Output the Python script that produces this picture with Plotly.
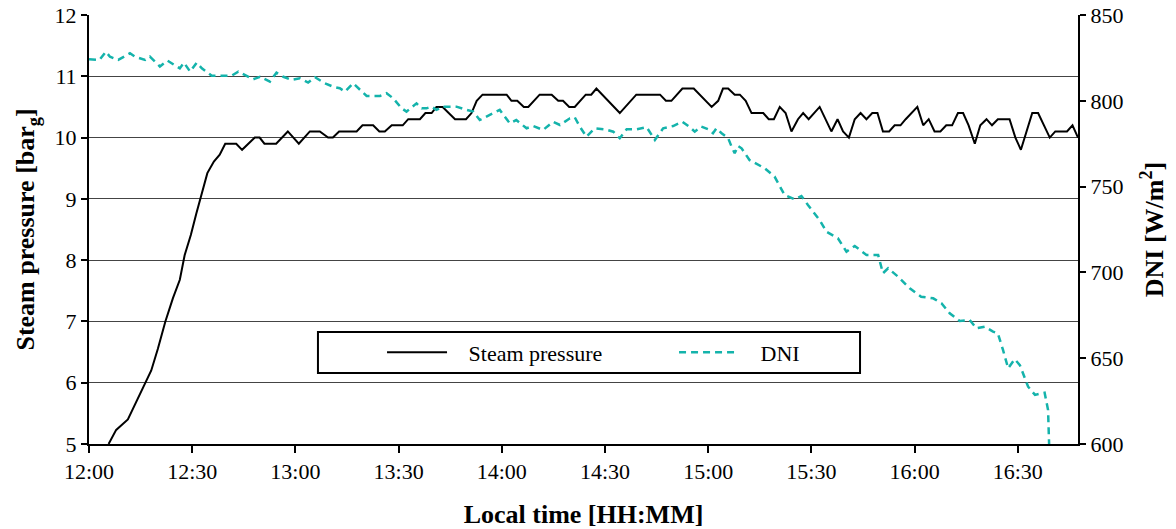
import plotly.graph_objects as go

# minutes after 12:00
p_time = [5.7, 7.9, 11.3, 14.7, 16.2, 18.1, 20.0, 22.2, 24.4, 26.4, 27.8, 29.6, 31.2, 32.6, 34.4, 36.3, 38.0,
          39.6, 42.8, 44.5, 46.2, 48.2, 49.6, 51.0, 54.4, 57.8, 61.0, 64.2, 67.1, 69.5, 70.9, 72.7, 77.8,
          79.5, 82.6, 84.4, 86.0, 88.0, 91.2, 92.8, 96.2, 97.8, 99.6, 101.0, 102.8, 106.4, 109.6, 111.2,
          112.7, 114.4, 121.4, 122.8, 124.5, 126.4, 127.7, 131.0, 134.5, 136.4, 137.8, 139.6, 141.2, 144.4,
          146.0, 147.5, 154.3, 159.1, 166.0, 167.7, 169.3, 172.5, 175.8, 181.0, 182.9, 184.3, 185.8, 187.7,
          189.2, 190.9, 192.6, 196.0, 197.6, 199.1, 200.8, 202.5, 204.2, 206.1, 207.6, 209.2, 212.4, 215.8,
          217.6, 219.2, 220.9, 222.6, 224.3, 226.0, 227.7, 229.2, 230.8, 232.6, 234.2, 235.9, 237.4, 240.8,
          242.5, 244.1, 245.8, 247.5, 249.2, 250.9, 252.6, 254.1, 255.7, 257.5, 259.1, 260.9, 262.5, 264.2,
          267.6, 269.3, 270.9, 274.2, 275.9, 279.3, 280.9, 284.3, 285.9, 287.5]
p_value = [5.0, 5.23, 5.40, 5.80, 6.0, 6.2, 6.55, 7.0, 7.38, 7.68, 8.08, 8.41, 8.76, 9.06, 9.42, 9.61, 9.72,
           9.9, 9.9, 9.8, 9.9, 10.0, 10.0, 9.9, 9.9, 10.1, 9.9, 10.1, 10.1, 10.0, 10.0, 10.1, 10.1,
           10.2, 10.2, 10.1, 10.1, 10.2, 10.2, 10.3, 10.3, 10.4, 10.4, 10.5, 10.5, 10.3, 10.3, 10.4,
           10.6, 10.7, 10.7, 10.6, 10.6, 10.5, 10.5, 10.7, 10.7, 10.6, 10.6, 10.5, 10.5, 10.7,
           10.7, 10.8, 10.4, 10.7, 10.7, 10.6, 10.6, 10.8, 10.8, 10.5, 10.6, 10.8, 10.8, 10.7,
           10.7, 10.6, 10.4, 10.4, 10.3, 10.3, 10.5, 10.4, 10.1, 10.3, 10.4, 10.3, 10.5, 10.1,
           10.3, 10.1, 10.0, 10.3, 10.4, 10.3, 10.4, 10.4, 10.1, 10.1, 10.2, 10.2, 10.3, 10.5,
           10.2, 10.3, 10.1, 10.1, 10.2, 10.2, 10.4, 10.4, 10.2, 9.9, 10.2, 10.3, 10.2, 10.3,
           10.3, 10.0, 9.8, 10.4, 10.4, 10.0, 10.1, 10.1, 10.2, 10.0]

d_time = [0, 3.0, 4.9, 6.1, 8.5, 11.9, 13.4, 16.3, 17.7, 20.6, 22.8, 24.1, 26.4, 27.6, 29.4, 31.3, 32.8,
          35.7, 39.0, 41.4, 43.4, 45.3, 47.7, 49.7, 52.6, 54.5, 56.5, 58.9, 61.3, 63.7, 65.7, 68.6, 71.0,
          72.9, 74.4, 76.8, 80.7, 84.6, 86.5, 88.4, 90.9, 92.3, 95.2, 96.7, 98.1, 99.6, 101.0, 102.9,
          106.8, 109.8, 111.7, 113.6, 116.5, 119.4, 122.3, 124.2, 127.2, 129.1, 132.0, 134.9, 136.9,
          139.8, 141.2, 142.7, 144.6, 147.0, 149.9, 152.4, 154.3, 156.3, 159.2, 162.1, 164.5, 166.9,
          169.8, 172.5, 174.7, 176.1, 178.0, 180.0, 181.4, 182.4, 183.9, 185.8, 186.8, 187.7, 188.7,
          189.7, 192.0, 196.4, 199.3, 202.2, 205.1, 207.1, 209.0, 212.4, 214.4, 217.7, 220.2, 222.6,
          226.0, 229.4, 230.8, 232.3, 235.2, 238.6, 241.9, 245.4, 247.8, 250.2, 253.1, 256.0, 258.0,
          260.4, 262.8, 264.2, 265.7, 267.2, 269.1, 270.6, 273.0, 275.0, 277.8, 278.8, 279.1]
d_value = [824.2, 823.8, 828.6, 825.7, 823.8, 827.7, 825.7, 823.8, 825.7, 820.0, 823.4, 821.6, 818.9, 822.2,
           817.0, 822.2, 818.9, 814.6, 814.6, 814.6, 817.0, 815.0, 812.5, 814.0, 811.2, 816.4, 814.0,
           812.2, 813.1, 810.6, 813.7, 810.2, 808.2, 807.3, 805.3, 810.2, 802.8, 802.8, 804.4, 801.5,
           795.6, 793.7, 798.5, 795.6, 795.6, 796.6, 794.7, 796.6, 796.6, 794.7, 793.7, 788.8, 791.7,
           794.7, 786.9, 788.8, 784.0, 785.3, 783.0, 787.8, 785.9, 789.8, 790.4, 784.9, 779.1, 784.0,
           783.4, 782.0, 778.2, 783.4, 783.4, 784.6, 777.2, 784.0, 785.3, 787.8, 784.6, 782.0, 785.0,
           783.4, 781.1, 784.0, 781.1, 778.2, 773.3, 769.4, 773.7, 772.3, 765.5, 760.7, 755.8, 745.1,
           742.6, 744.5, 739.3, 730.5, 723.7, 719.9, 712.1, 715.4, 710.2, 710.2, 699.5, 702.4, 697.5,
           690.7, 685.8, 684.9, 682.0, 676.2, 671.7, 672.3, 667.4, 668.4, 665.5, 664.5, 654.8, 644.1,
           649.4, 646.0, 633.4, 628.6, 629.9, 619.8, 600.0]

tick_vals = [0, 30, 60, 90, 120, 150, 180, 210, 240, 270]
tick_text = ["12:00", "12:30", "13:00", "13:30", "14:00", "14:30", "15:00", "15:30", "16:00", "16:30"]

FONT = "Liberation Serif, Times New Roman, serif"
PAD = "\u00a0\u00a0\u00a0"

fig = go.Figure()
fig.add_trace(go.Scatter(x=p_time, y=p_value, mode="lines", name=PAD + "Steam pressure",
                         line=dict(color="black", width=2)))
fig.add_trace(go.Scatter(x=d_time, y=d_value, mode="lines", name=PAD + "DNI", yaxis="y2",
                         line=dict(color="#14B3AB", width=2.5, dash="7px,5px")))

axis_common = dict(zeroline=False, showline=True, linecolor="black", linewidth=2,
                   ticks="outside", tickwidth=2, tickcolor="black", automargin=False)

fig.update_layout(
    width=1176, height=529,
    margin=dict(l=89, r=98, t=15, b=85),
    paper_bgcolor="white", plot_bgcolor="white",
    font=dict(family=FONT, size=22, color="black"),
    showlegend=True,
    legend=dict(orientation="h", x=0.2963, y=0.2135, xanchor="left", yanchor="middle",
                borderwidth=0, bgcolor="rgba(0,0,0,0)",
                font=dict(family=FONT, size=22), entrywidth=217, entrywidthmode="pixels",
                itemwidth=60),
    shapes=[dict(type="rect", xref="paper", yref="paper", x0=0.2315, x1=0.7796, y0=0.1655, y1=0.2611,
                 line=dict(color="black", width=2), fillcolor="rgba(0,0,0,0)", layer="above")],
    xaxis=dict(range=[0, 287.5], tickvals=tick_vals, ticktext=tick_text, showgrid=False, ticklen=7,
               title=dict(text="<b>Local time [HH:MM]</b>", font=dict(family=FONT, size=26), standoff=24),
               **axis_common),
    yaxis=dict(range=[5, 12], dtick=1, showgrid=True, gridcolor="#444444", gridwidth=1, ticklen=6,
               title=dict(text="<b>Steam pressure [bar<sub>g</sub>]</b>", font=dict(family=FONT, size=26),
                          standoff=12),
               **axis_common),
    yaxis2=dict(range=[600, 850], dtick=50, overlaying="y", side="right", showgrid=False, ticklen=6,
                title=dict(text="<b>DNI [W/m<sup>2</sup>]</b>", font=dict(family=FONT, size=26), standoff=22),
                **axis_common),
)

fig.write_html("out.html", config={"displayModeBar": False},
               post_script="document.body.style.margin='0';")
